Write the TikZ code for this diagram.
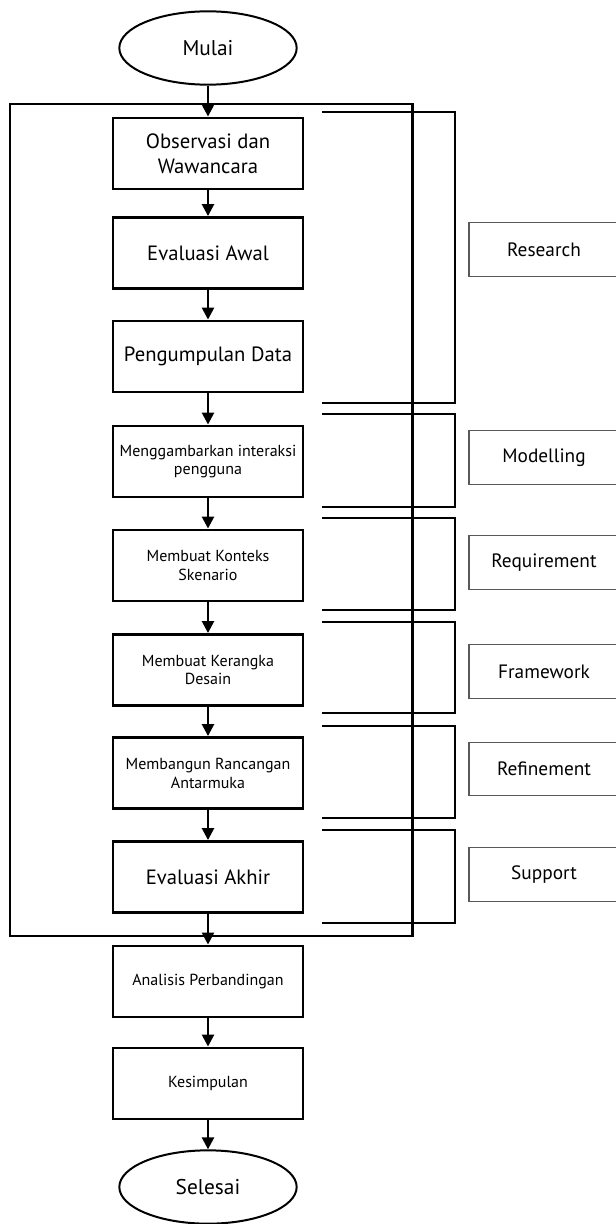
\documentclass[tikz,border=0pt]{standalone}
\usepackage{fontspec}
\setmainfont{PT Sans}
\usetikzlibrary{arrows.meta,shapes.geometric}
\tikzset{
  px/.style={x=0.75pt,y=-0.75pt},
  stepbox/.style={draw,line width=1.9pt,minimum width=142.5pt,minimum height=53.5pt,align=center,inner sep=1pt},
  bigtxt/.style={font=\fontsize{15.5}{19}\selectfont},
  smalltxt/.style={font=\fontsize{12}{14.2}\selectfont},
  term/.style={draw,ellipse,line width=1.5pt,minimum width=133pt,minimum height=55pt,inner sep=0pt,font=\fontsize{16}{19}\selectfont},
  flow/.style={line width=1.9pt,-{Triangle[length=9pt,width=9pt]}},
  frame/.style={line width=1.8pt},
  bracket/.style={line width=1.1pt},
  phase/.style={draw=black!65,line width=0.9pt,minimum width=112.5pt,minimum height=40pt,font=\fontsize{14.5}{17}\selectfont}
}
\begin{document}
\begin{tikzpicture}[px]
\useasboundingbox (0,0) rectangle (616,1224);
\clip (0,0) rectangle (616,1224);
% terminals
\node[term] (mulai) at (208,48) {Mulai};
\node[term] (selesai) at (208,1187) {Selesai};
% steps
\node[stepbox,bigtxt] (b1) at (208,153.5) {Observasi dan\\Wawancara};
\node[stepbox,bigtxt] (b2) at (208,253) {Evaluasi Awal};
\node[stepbox,bigtxt] (b3) at (208,356.5) {Pengumpulan Data};
\node[stepbox,smalltxt] (b4) at (208,461.5) {Menggambarkan interaksi\\pengguna};
\node[stepbox,smalltxt] (b5) at (208,565.5) {Membuat Konteks\\Skenario};
\node[stepbox,smalltxt] (b6) at (208,670) {Membuat Kerangka\\Desain};
\node[stepbox,smalltxt] (b7) at (208,773) {Membangun Rancangan\\Antarmuka};
\node[stepbox,bigtxt] (b8) at (208,877) {Evaluasi Akhir};
\node[stepbox,smalltxt] (b9) at (208,981.5) {Analisis Perbandingan};
\node[stepbox,smalltxt] (b10) at (208,1083.5) {Kesimpulan};
% frame
\draw[frame] (10,104) rectangle (412.5,936);
% arrows
\draw[flow] (mulai) -- (b1);
\draw[flow] (b1) -- (b2);
\draw[flow] (b2) -- (b3);
\draw[flow] (b3) -- (b4);
\draw[flow] (b4) -- (b5);
\draw[flow] (b5) -- (b6);
\draw[flow] (b6) -- (b7);
\draw[flow] (b7) -- (b8);
\draw[flow] (b8) -- (b9);
\draw[flow] (b9) -- (b10);
\draw[flow] (b10) -- (selesai);
% brackets
\draw[bracket] (322,112) -- (455,112) -- (455,403) -- (322,403);
\draw[bracket] (322,414) -- (455,414) -- (455,507) -- (322,507);
\draw[bracket] (322,518) -- (455,518) -- (455,610) -- (322,610);
\draw[bracket] (322,622) -- (455,622) -- (455,713) -- (322,713);
\draw[bracket] (322,726) -- (455,726) -- (455,818) -- (322,818);
\draw[bracket] (322,830) -- (455,830) -- (455,923) -- (322,923);
% phase labels
\node[phase] (p1) at (544,249.5) {Research};
\node[phase] (p2) at (544,457.5) {Modelling};
\node[phase] (p3) at (544,562.5) {Requirement};
\node[phase] (p4) at (544,671.5) {Framework};
\node[phase] (p5) at (544,769) {Refinement};
\node[phase] (p6) at (544,874.5) {Support};
\end{tikzpicture}
\end{document}
